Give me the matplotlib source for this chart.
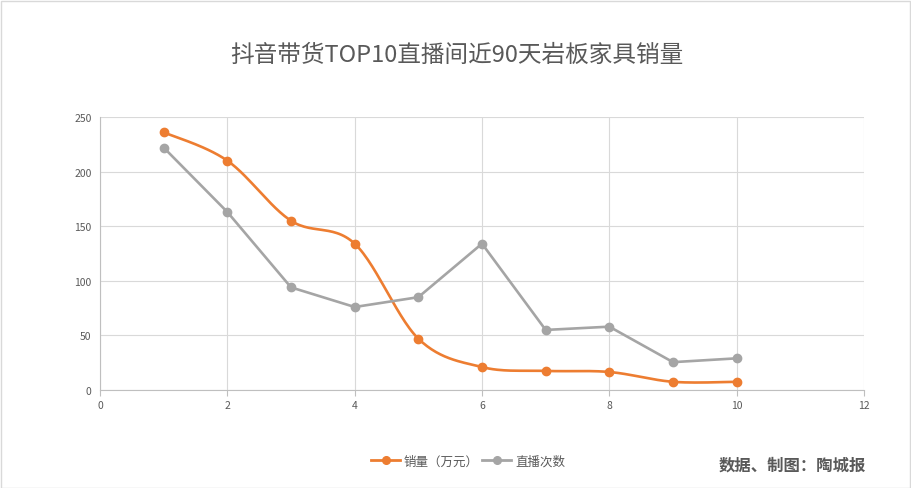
import numpy as np
import matplotlib
matplotlib.use('Agg')
import matplotlib.pyplot as plt
from matplotlib.patches import Rectangle

plt.rcParams['font.family'] = ['Noto Sans CJK SC', 'DejaVu Sans']

# 数据
rank = [1, 2, 3, 4, 5, 6, 7, 8, 9, 10]
sales = [236, 210, 155, 134, 47, 21, 17.5, 16.5, 7.5, 7.5]        # 销量（万元）
lives = [222, 163, 94, 76, 85, 134, 55, 58, 25.5, 29]              # 直播次数
x_ticks = [0, 2, 4, 6, 8, 10, 12]
y_ticks = [0, 50, 100, 150, 200, 250]

ORANGE = '#ED7D31'
GRAY = '#A5A5A5'
TXT = '#595959'


def smooth_curve(xs, ys, n=30):
    """Curva suavizada tipo Excel (Catmull-Rom con Bezier)"""
    xs = np.asarray(xs, float)
    ys = np.asarray(ys, float)
    out_x, out_y = [], []
    t = np.linspace(0, 1, n)
    for i in range(len(xs) - 1):
        p0 = np.array([xs[max(i - 1, 0)], ys[max(i - 1, 0)]])
        p1 = np.array([xs[i], ys[i]])
        p2 = np.array([xs[i + 1], ys[i + 1]])
        p3 = np.array([xs[min(i + 2, len(xs) - 1)], ys[min(i + 2, len(xs) - 1)]])
        c1 = p1 + (p2 - p0) / 6
        c2 = p2 - (p3 - p1) / 6
        b = ((1 - t) ** 3)[:, None] * p1 + (3 * (1 - t) ** 2 * t)[:, None] * c1 \
            + (3 * (1 - t) * t ** 2)[:, None] * c2 + (t ** 3)[:, None] * p2
        out_x.extend(b[:, 0])
        out_y.extend(b[:, 1])
    return out_x, out_y


fig = plt.figure(figsize=(9.11, 4.89), dpi=100)
ax = fig.add_axes([100 / 911, 1 - 391 / 489, 764 / 911, 273 / 489])

sx, sy = smooth_curve(rank, sales)
ax.plot(sx, sy, color=ORANGE, lw=1.9, zorder=3)
ax.plot(rank, sales, 'o', color=ORANGE, ms=6, zorder=4)
ax.plot(rank, lives, color=GRAY, lw=1.9, marker='o', ms=6, zorder=3)

ax.set_xlim(0, 12)
ax.set_ylim(0, 250)
ax.set_xticks(x_ticks)
ax.set_yticks(y_ticks)
ax.grid(True, color='#D9D9D9', lw=0.8)
ax.set_axisbelow(True)
for side in ['top', 'right']:
    ax.spines[side].set_visible(False)
for side in ['left', 'bottom']:
    ax.spines[side].set_color('#BFBFBF')
ax.tick_params(colors=TXT, labelsize=7.5, length=4, color='#BFBFBF')
ax.tick_params(axis='y', length=0, pad=6)
ax.tick_params(axis='x', direction='out', length=4, pad=3)

fig.text(457 / 911, 1 - 55 / 489, '抖音带货TOP10直播间近90天岩板家具销量',
         ha='center', va='center', fontsize=17, color=TXT)

# Leyenda
h1, = ax.plot([], [], color=ORANGE, lw=2, marker='o', ms=5.5)
h2, = ax.plot([], [], color=GRAY, lw=2, marker='o', ms=5.5)
fig.legend([h1, h2], ['销量（万元）', '直播次数'], loc='center',
           bbox_to_anchor=(468 / 911, 1 - 462 / 489), ncol=2, frameon=False,
           fontsize=9, labelcolor=TXT, handlelength=2.3, handletextpad=0.3,
           columnspacing=0.3)

fig.text(866 / 911, 1 - 466 / 489, '数据、制图：陶城报', ha='right', va='center',
         fontsize=11.8, fontweight='bold', color=TXT)

fig.patches.append(Rectangle((0.5 / 911, 0.5 / 489), 909 / 911, 487 / 489,
                             transform=fig.transFigure, fill=False,
                             edgecolor='#D9D9D9', lw=1))

plt.savefig('out.png', dpi=100)
